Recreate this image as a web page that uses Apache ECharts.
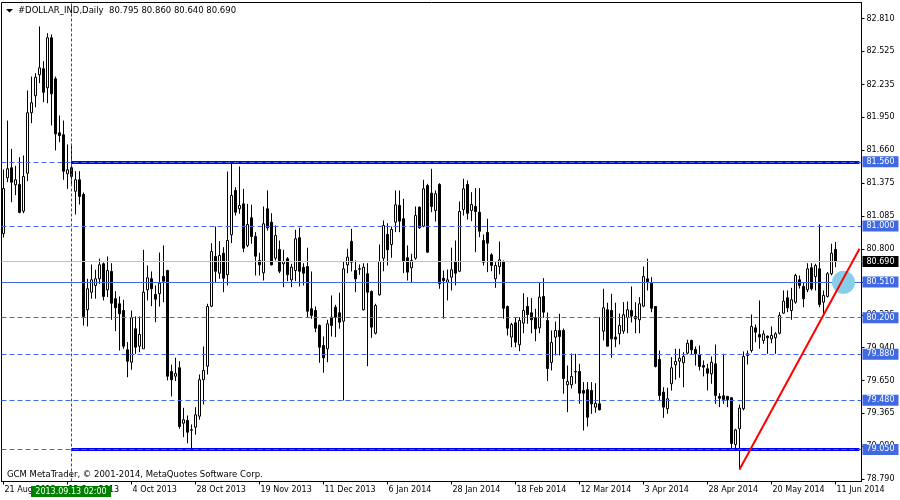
<!DOCTYPE html>
<html><head><meta charset="utf-8">
<script src="https://cdn.jsdelivr.net/npm/echarts@6/dist/echarts.min.js"></script>
<style>html,body{margin:0;padding:0;background:#fff}#c{width:900px;height:500px}</style>
</head><body><div id="c"></div>
<script>
// ---- data ----
const xLabels = ['21 Aug 2013','12 Sep 2013','4 Oct 2013','28 Oct 2013','19 Nov 2013','11 Dec 2013','6 Jan 2014','28 Jan 2014','18 Feb 2014','12 Mar 2014','3 Apr 2014','28 Apr 2014','20 May 2014','11 Jun 2014'];
const yTicks = [82.810,82.525,82.235,81.950,81.660,81.375,81.085,80.800,80.510,80.225,79.940,79.650,79.365,79.080,78.790];

const open = [80.934,81.420,81.508,81.359,81.362,81.129,81.460,81.988,82.136,82.319,82.372,82.206,82.642,82.284,81.813,81.796,81.455,81.508,81.303,81.403,
81.275,80.269,80.422,80.481,80.539,80.670,80.443,80.603,80.365,80.321,80.262,79.919,79.811,80.103,79.951,79.928,80.443,80.539,80.402,80.408,
80.559,80.611,79.730,79.689,79.762,79.279,79.303,79.221,79.244,79.340,79.658,79.776,80.300,80.734,80.588,80.762,80.574,80.923,81.310,81.150,
81.193,80.830,81.071,80.908,80.699,80.591,81.150,81.033,80.719,80.795,80.670,80.714,80.530,80.611,80.897,80.640,80.646,80.277,80.262,80.132,
79.957,79.928,80.204,80.291,80.242,80.169,80.661,80.865,80.611,80.626,80.269,80.583,80.428,80.064,80.399,80.719,80.926,80.838,81.033,81.179,
81.063,80.722,80.635,80.719,81.164,80.998,81.353,81.286,81.135,81.362,80.544,80.509,80.553,80.690,80.605,81.144,81.362,81.135,81.170,81.120,
80.873,80.943,80.748,80.539,80.646,80.690,80.297,80.030,80.155,79.963,80.152,80.297,80.242,80.199,80.111,80.385,80.175,79.809,80.030,80.088,
80.088,79.614,79.614,79.730,79.730,79.564,79.571,79.564,79.419,79.448,80.082,80.269,80.262,80.030,80.059,80.082,80.199,80.262,80.210,80.181,
80.300,80.539,80.501,80.297,79.835,79.550,79.405,79.623,79.789,79.820,79.806,79.890,80.001,79.922,79.878,79.782,79.754,79.710,79.797,79.512,
79.518,79.512,79.501,79.093,79.230,79.405,79.884,79.913,80.111,80.053,80.001,80.038,80.015,80.024,80.064,80.239,80.373,80.262,80.335,80.530,
80.472,80.443,80.635,80.559,80.626,80.335,80.385,80.583,80.795];
const close = [81.327,81.499,81.382,81.403,81.118,81.432,81.988,82.075,82.298,82.380,82.167,82.642,82.153,81.804,81.789,81.478,81.490,81.432,81.403,81.257,
80.210,80.452,80.530,80.539,80.661,80.385,80.611,80.326,80.286,80.234,79.951,79.820,80.199,79.942,80.053,80.422,80.548,80.452,80.361,80.501,
80.518,79.689,79.658,79.713,79.250,79.309,79.200,79.218,79.352,79.658,79.739,80.297,80.777,80.605,80.742,80.544,80.873,81.266,81.120,81.179,
80.806,81.013,80.908,80.736,80.661,81.019,80.984,80.661,80.917,80.605,80.690,80.574,80.640,80.888,80.605,80.588,80.256,80.219,80.108,79.942,
79.850,80.146,80.132,80.204,80.160,80.626,80.728,80.684,80.539,80.623,80.640,80.422,80.117,80.306,80.690,81.004,80.792,80.969,81.185,81.042,
80.693,80.597,80.699,81.091,80.984,81.324,80.771,81.170,81.281,80.495,80.524,80.530,80.618,80.588,81.126,81.324,81.111,81.187,81.126,80.954,
80.684,80.850,80.655,80.655,80.705,80.282,80.108,80.140,79.986,80.175,80.262,80.227,80.181,80.103,80.379,80.248,79.756,79.983,80.088,80.036,
79.669,79.643,79.686,79.726,79.541,79.541,79.331,79.448,79.453,79.396,80.286,79.951,80.015,80.012,80.132,80.225,80.269,80.213,80.190,80.321,
80.559,80.515,80.282,79.774,79.521,79.419,79.492,79.762,79.817,79.846,79.861,79.977,79.919,79.884,79.774,79.768,79.715,79.811,79.521,79.497,
79.486,79.483,79.102,79.220,79.411,79.861,79.870,80.123,80.073,80.030,80.059,80.024,80.044,80.059,80.219,80.344,80.286,80.356,80.568,80.481,
80.365,80.626,80.452,80.655,80.315,80.393,80.583,80.762,80.690];
const low = [80.899,81.382,81.207,81.269,81.111,81.111,81.391,81.897,82.036,82.246,82.080,82.071,81.877,81.659,81.731,81.403,81.324,81.353,81.100,81.187,
80.131,80.123,80.365,80.365,80.495,80.350,80.379,80.181,80.082,79.913,79.928,79.680,79.745,79.884,79.898,79.928,80.350,80.300,80.160,80.297,
80.335,79.652,79.512,79.646,79.230,79.157,79.104,79.041,79.178,79.309,79.442,79.704,80.291,80.509,80.539,80.422,80.481,80.850,81.091,81.106,
80.771,80.815,80.844,80.568,80.568,80.524,80.960,80.655,80.699,80.588,80.466,80.518,80.466,80.518,80.472,80.481,80.204,80.190,80.073,79.806,
79.719,79.811,80.036,80.030,80.103,79.477,80.588,80.603,80.422,80.574,80.262,79.776,80.024,80.053,80.393,80.605,80.655,80.722,80.946,80.946,
80.588,80.524,80.504,80.705,80.975,80.989,80.764,81.120,81.039,80.452,80.190,80.350,80.437,80.481,80.597,81.091,81.056,81.042,80.771,80.902,
80.655,80.597,80.605,80.460,80.577,80.190,80.044,79.942,79.942,79.907,80.064,80.146,80.064,79.994,80.064,80.199,79.646,79.739,79.870,79.870,
79.536,79.375,79.582,79.623,79.448,79.215,79.250,79.361,79.370,79.390,80.001,79.948,79.850,79.942,79.966,80.059,80.064,80.158,80.064,80.064,
80.291,80.437,80.248,79.765,79.471,79.326,79.361,79.564,79.658,79.675,79.593,79.878,79.878,79.782,79.739,79.687,79.564,79.623,79.448,79.419,
79.448,79.419,79.056,79.054,78.875,79.390,79.791,79.896,79.986,79.928,79.972,79.884,79.977,79.884,80.053,80.234,80.248,80.181,80.321,80.454,
80.291,80.422,80.437,80.437,80.291,80.234,80.376,80.568,80.640];
const high = [81.493,81.920,81.673,81.525,81.600,81.615,82.182,82.304,82.333,82.741,82.438,82.682,82.671,82.304,81.964,81.920,81.711,81.717,81.478,81.478,
81.292,80.539,80.664,80.618,80.714,80.681,80.734,80.675,80.431,80.385,80.356,79.986,80.262,80.210,80.210,80.792,80.655,80.603,80.481,80.768,
80.830,80.618,79.789,79.850,79.820,79.413,79.346,79.268,79.419,79.704,79.948,80.321,80.850,80.995,80.867,80.815,81.475,81.548,81.338,81.519,
81.324,81.193,81.185,80.946,80.766,81.170,81.310,81.111,81.004,80.873,80.792,80.728,80.670,80.967,80.984,80.675,80.810,80.603,80.297,80.140,
80.036,80.181,80.393,80.312,80.417,80.693,80.801,80.975,80.699,80.664,80.675,80.675,80.437,80.321,80.838,81.048,81.024,80.995,81.310,81.310,
81.237,80.830,80.757,81.170,81.170,81.403,81.368,81.499,81.310,81.373,80.611,80.620,80.810,80.873,81.214,81.412,81.397,81.295,81.330,81.330,
80.926,81.063,80.762,80.684,80.865,80.699,80.306,80.155,80.204,80.204,80.413,80.379,80.370,80.277,80.501,80.544,80.245,80.088,80.166,80.234,
80.105,79.782,79.887,79.884,79.797,79.637,79.637,79.637,79.628,80.204,80.452,80.330,80.408,80.330,80.236,80.335,80.341,80.472,80.335,80.379,
80.646,80.714,80.553,80.297,79.913,79.593,79.588,79.855,79.928,79.928,79.898,80.007,80.007,79.948,79.957,79.826,79.797,79.861,79.966,79.541,
79.884,79.518,79.506,79.230,79.442,79.905,79.913,80.228,80.140,80.350,80.088,80.044,80.123,80.073,80.248,80.437,80.437,80.460,80.583,80.568,
80.509,80.675,80.675,80.670,81.013,80.437,80.597,80.845,80.860];

const dashedLevels = [81.560, 81.000, 80.200, 79.880, 79.480, 79.050];
const solidLevel = 80.510;
const bidLevel = 80.690;
const thickLevels = [81.560, 79.050];
const thickStartBar = 17;
const crosshairBar = 17;
const trendLine = [[184, 78.875], [214, 80.801]];
const circleMark = [210, 80.508];
const header = '#DOLLAR_IND,Daily  80.795 80.860 80.640 80.690';
const footer = 'GCM MetaTrader, \u00A9 2001-2014, MetaQuotes Software Corp.';
const crosshairText = '2013.09.13 02:00';

// ---- chart ----
const SLOTS = 215;
const categories = [];
for (let i = 0; i < SLOTS; i++) categories.push(String(i));
const candles = open.map((o, i) => [o, close[i], low[i], high[i]]);
const FONT = 'DejaVu Sans';
const labelEvery = (idx) => idx % 16 === 0 && idx / 16 < xLabels.length;

const boxLabel = (bg) => ({
  show: true, position: 'end', distance: 1,
  formatter: (p) => p.value.toFixed(3),
  backgroundColor: bg, color: '#fff', fontFamily: FONT, fontSize: 8,
  lineHeight: 9, padding: [1, 4, 1, 4]
});

const levelData = [];
dashedLevels.forEach(v => levelData.push({
  yAxis: v, lineStyle: { color: '#4169E1', width: 1, type: [5, 3] }, label: boxLabel('#4169E1')
}));
levelData.push({ yAxis: solidLevel, lineStyle: { color: '#4169E1', width: 1, type: 'solid' }, label: boxLabel('#4169E1') });

const chart = echarts.init(document.getElementById('c'), null, { renderer: 'canvas' });
chart.setOption({
  animation: false,
  backgroundColor: '#fff',
  grid: { left: 1.5, right: 38.5, top: 2.5, bottom: 18.5, show: true, borderColor: '#000', borderWidth: 1, backgroundColor: '#fff' },
  xAxis: {
    type: 'category', data: categories, boundaryGap: true,
    axisLine: { show: true, lineStyle: { color: '#000', width: 1 } },
    axisTick: { show: true, alignWithLabel: true, interval: labelEvery, length: 3, lineStyle: { color: '#000' } },
    axisLabel: {
      interval: labelEvery, formatter: (v, idx) => xLabels[Math.round(Number(v) / 16)] || '',
      align: 'left', margin: 4, fontSize: 8, fontFamily: FONT, color: '#000', padding: [0, 0, 0, 1]
    },
    splitLine: { show: false }
  },
  yAxis: {
    type: 'value', position: 'right', min: 78.77, max: 82.95,
    axisLine: { show: true, lineStyle: { color: '#000' } },
    axisTick: { show: true, length: 3, customValues: yTicks, lineStyle: { color: '#000' } },
    axisLabel: { customValues: yTicks, formatter: (v) => Number(v).toFixed(3), margin: 5, fontSize: 8, fontFamily: FONT, color: '#000' },
    splitLine: { show: false }
  },
  series: [
    {
      type: 'candlestick', data: candles, barWidth: 2, z: 2, silent: true,
      itemStyle: { color: '#fff', color0: '#000', borderColor: '#000', borderColor0: '#000', borderColorDoji: '#000', borderWidth: 1 }
    },
    {
      type: 'line', data: [], z: 3, silent: true,
      markLine: {
        silent: true, symbol: 'none', animation: false,
        data: thickLevels.map(v => [
          { coord: [thickStartBar, v], lineStyle: { color: '#0000ff', width: 3, type: 'solid' }, label: { show: false } },
          { coord: [SLOTS - 1, v] }
        ])
      }
    },
    {
      type: 'line', data: [], z: 4, silent: true,
      markLine: {
        silent: true, symbol: 'none', animation: false,
        data: levelData.concat([
          { yAxis: bidLevel, lineStyle: { color: '#C0C0C0', width: 1, type: 'solid' }, label: boxLabel('#000') },
          { xAxis: crosshairBar, lineStyle: { color: '#008000', width: 1, type: [3, 2] }, label: { show: false } }
        ])
      }
    },
    {
      type: 'line', data: [], z: 5, silent: true,
      markPoint: {
        silent: true, animation: false, symbol: 'circle', symbolSize: 23,
        itemStyle: { color: '#87CEEB' }, label: { show: false },
        data: [{ coord: circleMark }]
      }
    },
    {
      type: 'line', data: trendLine, z: 6, silent: true, showSymbol: false, symbol: 'none',
      lineStyle: { color: '#ff0000', width: 2 }
    }
  ],
  graphic: [
    { type: 'polygon', shape: { points: [[6, 9], [13, 9], [9.5, 12.5]] }, style: { fill: '#000' }, z: 100 },
    { type: 'text', x: 18, y: 11, style: { text: header, fill: '#000', font: '8.5px "DejaVu Sans"', textVerticalAlign: 'middle' }, z: 100 },
    { type: 'text', x: 7, y: 475, style: { text: footer, fill: '#000', font: '8.5px "DejaVu Sans"', textVerticalAlign: 'middle' }, z: 100 },
    { type: 'rect', shape: { x: 31, y: 486, width: 80, height: 11 }, style: { fill: '#008000' }, z: 100 },
    { type: 'text', x: 71, y: 491.5, style: { text: crosshairText, fill: '#fff', font: '8px "DejaVu Sans"', textAlign: 'center', textVerticalAlign: 'middle' }, z: 101 }
  ]
});
</script></body></html>
